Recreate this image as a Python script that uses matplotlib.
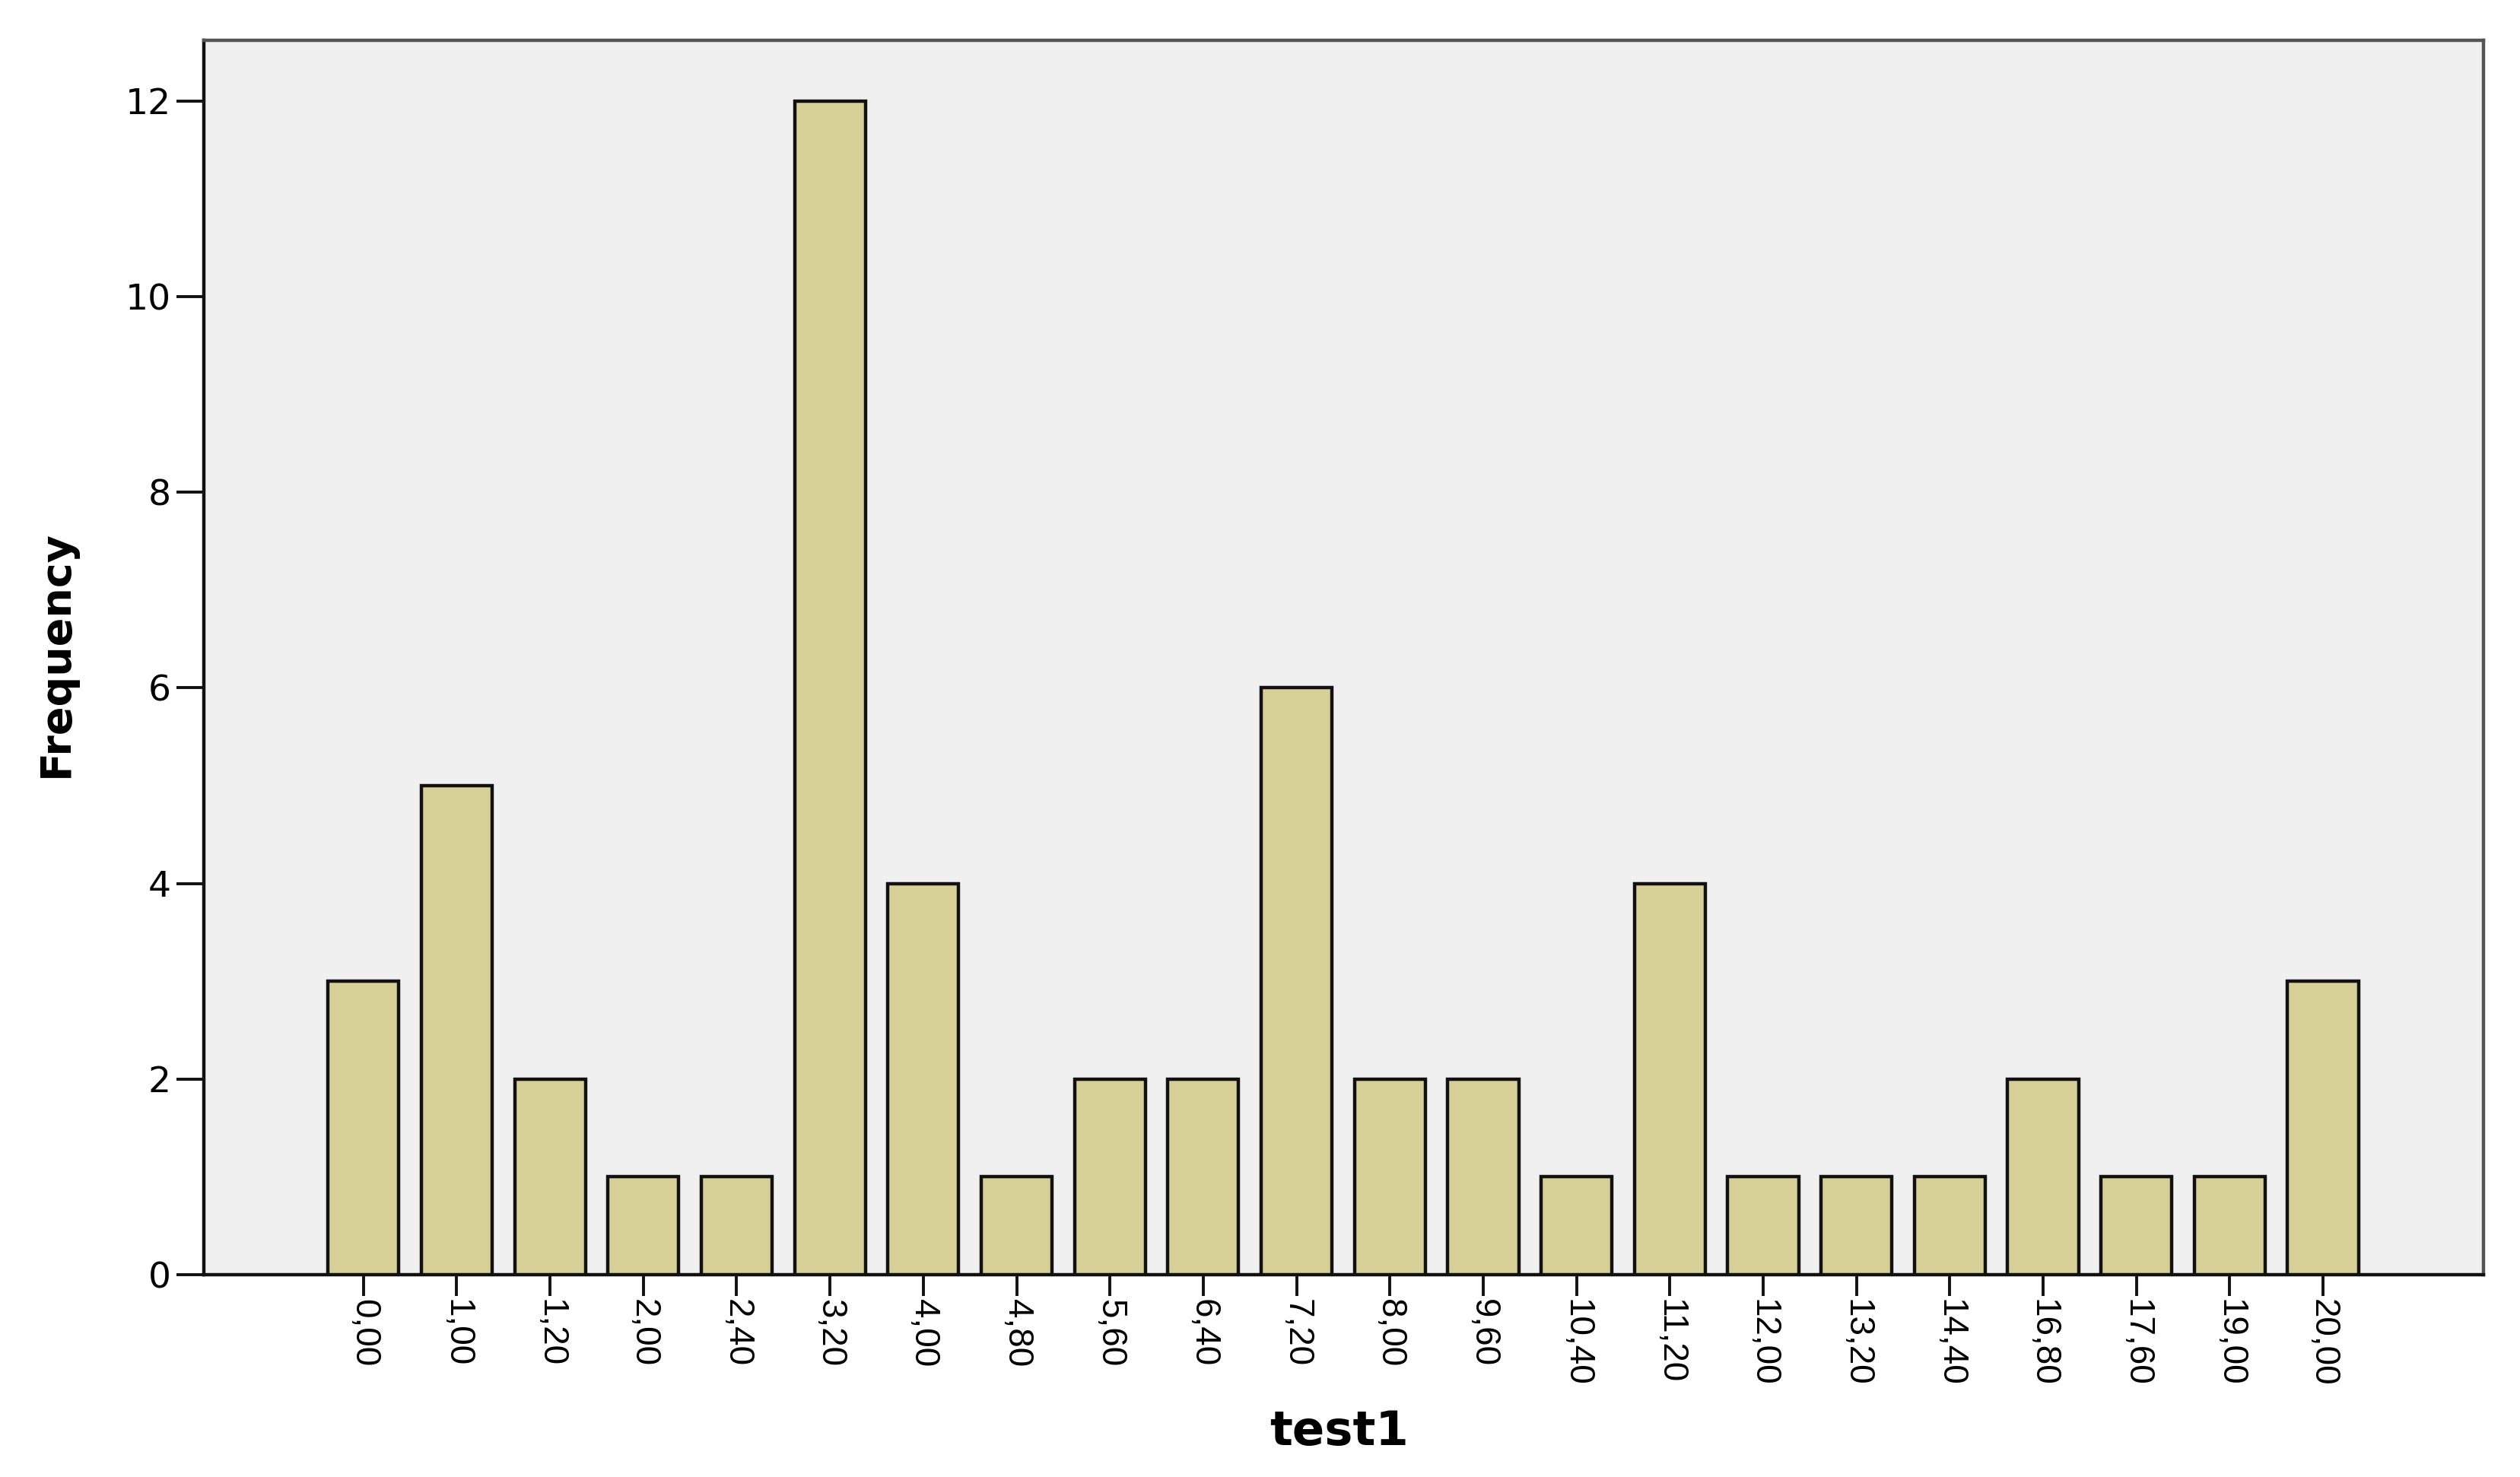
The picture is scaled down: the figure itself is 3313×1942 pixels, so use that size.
import matplotlib
matplotlib.use("Agg")
import matplotlib.pyplot as plt
import numpy as np

categories = ["0,00", "1,00", "1,20", "2,00", "2,40", "3,20", "4,00", "4,80", "5,60", "6,40",
              "7,20", "8,00", "9,60", "10,40", "11,20", "12,00", "13,20", "14,40", "16,80",
              "17,60", "19,00", "20,00"]
frequency = [3, 5, 2, 1, 1, 12, 4, 1, 2, 2, 6, 2, 2, 1, 4, 1, 1, 1, 2, 1, 1, 3]
y_ticks = [0, 2, 4, 6, 8, 10, 12]

plt.rcParams['font.family'] = ['Liberation Sans', 'DejaVu Sans']

W, H = 3313, 1942
fig = plt.figure(figsize=(W / 100, H / 100), dpi=100)
ax = fig.add_axes([268 / W, 1 - 1676 / H, (3265 - 268) / W, (1676 - 53) / H])
ax.set_facecolor('#f0f0f0')

x = np.arange(len(categories))
ax.bar(x, frequency, width=0.76, color='#d6d097', edgecolor='#111111', linewidth=3.2, zorder=3)

ax.set_xlim(-1.71, len(categories) - 1 + 1.72)
ax.set_ylim(0, 12.62)
ax.set_yticks(y_ticks)
ax.set_yticklabels([str(v) for v in y_ticks], family=['DejaVu Sans'])
ax.set_xticks(x)
ax.set_xticklabels(categories, rotation=270)

ax.tick_params(axis='y', direction='out', length=26, width=2.8, color='#111111',
               labelsize=34, pad=5)
ax.tick_params(axis='x', direction='out', length=20, width=2.8, color='#111111',
               labelsize=33, pad=3)

for side in ['left', 'bottom']:
    ax.spines[side].set_color('#111111')
    ax.spines[side].set_linewidth(3.2)
for side in ['top', 'right']:
    ax.spines[side].set_color('#555555')
    ax.spines[side].set_linewidth(3.2)

fig.text(74 / W, 1 - 860 / H, 'Frequency', rotation=90, ha='center', va='center',
         fontsize=40, fontweight='bold', family=['DejaVu Sans'])
fig.text(1760 / W, 1 - 1883 / H, 'test1', ha='center', va='center',
         fontsize=45, fontweight='bold', family=['DejaVu Sans'])

fig.savefig('out.png', dpi=100, facecolor='white')
